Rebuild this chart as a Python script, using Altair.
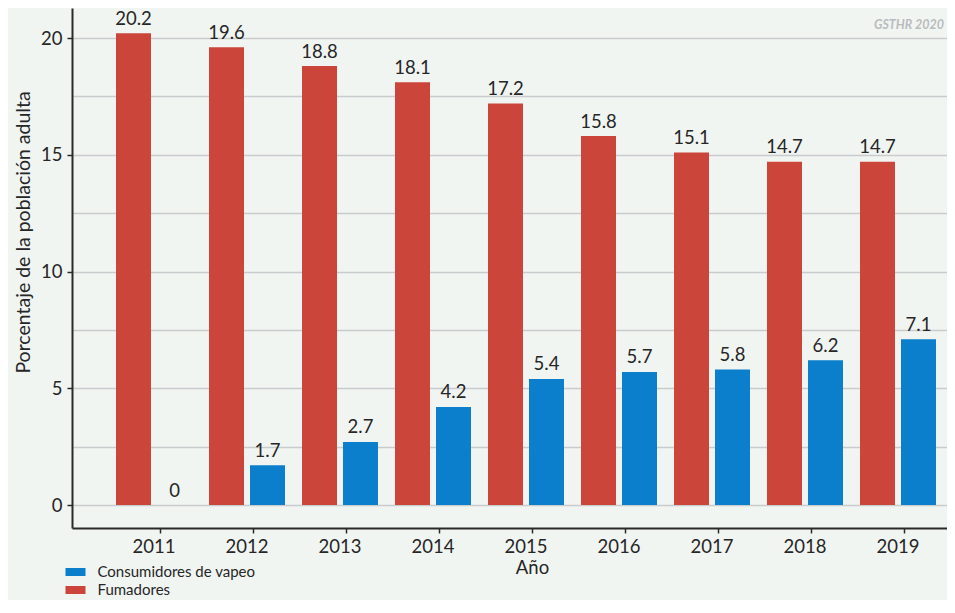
import altair as alt
import pandas as pd

years = ["2011", "2012", "2013", "2014", "2015", "2016", "2017", "2018", "2019"]
fumadores = [20.2, 19.6, 18.8, 18.1, 17.2, 15.8, 15.1, 14.7, 14.7]
vapeo = [0, 1.7, 2.7, 4.2, 5.4, 5.7, 5.8, 6.2, 7.1]
series = ["Consumidores de vapeo", "Fumadores"]
colors = ["#0b7fcc", "#cc453b"]
grid_values = [0, 2.5, 5, 7.5, 10, 12.5, 15, 17.5, 20]

rows = []
for y, f, v in zip(years, fumadores, vapeo):
    rows.append({"Año": y, "serie": "Fumadores", "valor": f})
    rows.append({"Año": y, "serie": "Consumidores de vapeo", "valor": v})
df = pd.DataFrame(rows)

FONT = "Lato"
TXT = "#262626"

x_enc = alt.X(
    "Año:N",
    scale=alt.Scale(paddingInner=0.1828, paddingOuter=0.2957, align=0.8),
    axis=alt.Axis(
        title="Año", labelAngle=0, bandPosition=0.5855, grid=False,
        domainColor="#2a2a2a", domainWidth=2, tickColor="#2a2a2a", tickWidth=1.5,
        tickSize=5, labelPadding=4, labelFontSize=18.5, labelColor=TXT, labelFont=FONT,
        titleFontSize=18.5, titleFontWeight="normal", titleColor=TXT, titleFont=FONT,
        titlePadding=3, titleX=460,
    ),
)
xoff = alt.XOffset(
    "serie:N", sort=["Fumadores", "Consumidores de vapeo"],
    scale=alt.Scale(paddingInner=0.146, paddingOuter=0),
)
y_enc = alt.Y(
    "valor:Q",
    scale=alt.Scale(domain=[-0.985, 21.285], nice=False, zero=False),
    axis=alt.Axis(
        title="Porcentaje de la población adulta", values=grid_values,
        labelExpr="datum.value % 5 === 0 ? datum.label : ''",
        tickOpacity={"condition": {"test": "datum.value % 5 === 0", "value": 1}, "value": 0},
        grid=True, gridColor="#c9cccd", gridWidth=1.6,
        domainColor="#2a2a2a", domainWidth=2, tickColor="#2a2a2a", tickWidth=1.5,
        tickSize=5, labelPadding=5, labelFontSize=18.5, labelColor=TXT, labelFont=FONT,
        titleFontSize=19.5, titleFontWeight="normal", titleColor=TXT, titleFont=FONT,
        titlePadding=7, titleY=224, titleAlign="center", titleAngle=270,
    ),
)

base = alt.Chart(df)

bars = base.mark_bar().encode(
    x=x_enc,
    xOffset=xoff,
    y=y_enc,
    y2=alt.datum(0),
    color=alt.Color(
        "serie:N",
        scale=alt.Scale(domain=series, range=colors),
        legend=alt.Legend(
            title=None, orient="none", legendX=-4.5, legendY=556,
            symbolType="M-1.25,-0.5H1.25V0.5H-1.25Z", symbolSize=256,
            symbolStrokeWidth=0, symbolOpacity=1, labelOffset=14, rowPadding=2,
            labelFontSize=15, labelColor=TXT, labelFont=FONT, labelLimit=0,
        ),
    ),
)

labels = base.mark_text(baseline="bottom", dy=-4.5, fontSize=18.5, font=FONT, color=TXT).encode(
    x=x_enc,
    xOffset=xoff,
    y=y_enc,
    text=alt.Text("valor:Q"),
)

note = alt.Chart(pd.DataFrame({"t": ["GSTHR 2020"]})).mark_text(
    align="right", baseline="middle", fontSize=12.5, font=FONT, fontStyle="italic",
    fontWeight="bold", color="#b9bcbe",
).encode(text="t:N", x=alt.value(872), y=alt.value(17))

chart = alt.layer(bars, labels, note).properties(
    width=875, height=520,
    autosize=alt.AutoSizeParams(type="none"),
    padding={"left": 64, "top": 0, "right": 0, "bottom": 72},
    background="#f1f5f2",
).configure_view(stroke=None)

chart.save("out.html", embed_options={"renderer": "svg", "actions": False})
